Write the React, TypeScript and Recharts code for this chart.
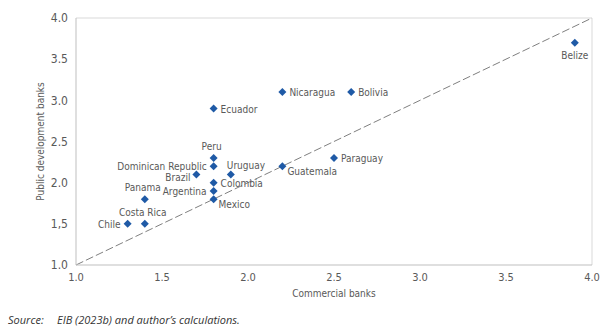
import {
  ScatterChart,
  Scatter,
  XAxis,
  YAxis,
  ZAxis,
  ReferenceLine,
} from "recharts";

const countries = [
  "Chile", "Costa Rica", "Panama", "Brazil", "Dominican Republic", "Peru",
  "Colombia", "Argentina", "Mexico", "Uruguay", "Ecuador", "Nicaragua",
  "Bolivia", "Guatemala", "Paraguay", "Belize",
];
const commercial = [1.3, 1.4, 1.4, 1.7, 1.8, 1.8, 1.8, 1.8, 1.8, 1.9, 1.8, 2.2, 2.6, 2.2, 2.5, 3.9];
const publicDev = [1.5, 1.5, 1.8, 2.1, 2.2, 2.3, 2.0, 1.9, 1.8, 2.1, 2.9, 3.1, 3.1, 2.2, 2.3, 3.7];
const ticks = [1.0, 1.5, 2.0, 2.5, 3.0, 3.5, 4.0];
const yTickLabels = ["1.0", "1,5", "2.0", "2.5", "3.0", "3.5", "4.0"];

// where each country's name sits relative to its marker
const labelSide: Record<string, string> = {
  Chile: "left", "Costa Rica": "top", Panama: "top", Brazil: "bottomLeft",
  "Dominican Republic": "left", Peru: "top", Colombia: "right",
  Argentina: "left", Mexico: "bottomRight", Uruguay: "topRight",
  Ecuador: "right", Nicaragua: "right", Bolivia: "right",
  Guatemala: "bottomRight", Paraguay: "right", Belize: "bottom",
};

const data = countries.map((name, i) => ({
  name,
  x: commercial[i],
  y: publicDev[i],
}));

const FONT = "'Liberation Sans Narrow', 'DejaVu Sans Condensed', sans-serif";
const BLUE = "#1f5aa6";
const TEXT = "#595959";

const Point = (props: any) => {
  const { cx, cy, payload } = props;
  const side = labelSide[payload.name];
  let tx = cx + 7;
  let ty = cy + 4;
  let anchor: "start" | "middle" | "end" = "start";
  if (side === "left") {
    tx = cx - 7;
    anchor = "end";
  } else if (side === "bottomLeft") {
    tx = cx - 6;
    ty = cy + 7;
    anchor = "end";
  } else if (side === "top") {
    tx = cx - 2;
    ty = cy - 8;
    anchor = "middle";
  } else if (side === "topRight") {
    tx = cx - 4;
    ty = cy - 5;
  } else if (side === "bottomRight") {
    tx = cx + 5;
    ty = cy + 9;
  } else if (side === "bottom") {
    ty = cy + 16;
    tx = cx;
    anchor = "middle";
  }
  const d = 4;
  return (
    <g>
      <path
        d={`M${cx},${cy - d} L${cx + d},${cy} L${cx},${cy + d} L${cx - d},${cy} Z`}
        fill={BLUE}
      />
      <text x={tx} y={ty} textAnchor={anchor} fontSize={10} fill={TEXT} fontFamily={FONT}>
        {payload.name}
      </text>
    </g>
  );
};

export default function App() {
  return (
    <div style={{ position: "absolute", left: 0, top: 0, width: 604, height: 327, background: "#fff" }}>
      <ScatterChart
        width={604}
        height={305}
        margin={{ top: 18, right: 12, bottom: 2, left: 0 }}
      >
        <XAxis
          type="number"
          dataKey="x"
          domain={[1, 4]}
          ticks={ticks}
          tickFormatter={(v: number) => v.toFixed(1)}
          tick={{ fill: TEXT, fontSize: 11, fontFamily: FONT }}
          tickLine={false}
          axisLine={{ stroke: "#bfbfbf" }}
          height={38}
          label={{
            value: "Commercial banks",
            position: "insideBottom",
            offset: 6,
            fill: TEXT,
            fontSize: 10,
            fontFamily: FONT,
          }}
        />
        <YAxis
          type="number"
          dataKey="y"
          domain={[1, 4]}
          ticks={ticks}
          tickFormatter={(v: number) => yTickLabels[ticks.indexOf(v)] ?? String(v)}
          tick={{ fill: TEXT, fontSize: 12, fontFamily: FONT }}
          tickLine={false}
          axisLine={{ stroke: "#bfbfbf" }}
          width={76}
          label={{
            value: "Public development banks",
            angle: -90,
            position: "insideLeft",
            offset: 40,
            fill: TEXT,
            fontSize: 10,
            fontFamily: FONT,
            style: { textAnchor: "middle" },
          }}
        />
        <ZAxis range={[50, 50]} />
        <ReferenceLine y={4} stroke="#d9d9d9" />
        <ReferenceLine x={4} stroke="#d9d9d9" />
        <ReferenceLine
          segment={[{ x: 1, y: 1 }, { x: 4, y: 4 }]}
          stroke="#7f7f7f"
          strokeDasharray="8 3"
        />
        <Scatter data={data} shape={<Point />} isAnimationActive={false} />
      </ScatterChart>
      <div
        style={{
          position: "absolute",
          top: 312,
          left: 8,
          fontFamily: "'Open Sans', sans-serif",
          fontStyle: "italic",
          fontSize: 11,
          color: "#333",
          whiteSpace: "nowrap",
        }}
      >
        <span style={{ display: "inline-block", width: 49 }}>Source:</span>
        EIB (2023b) and author’s calculations.
      </div>
    </div>
  );
}
